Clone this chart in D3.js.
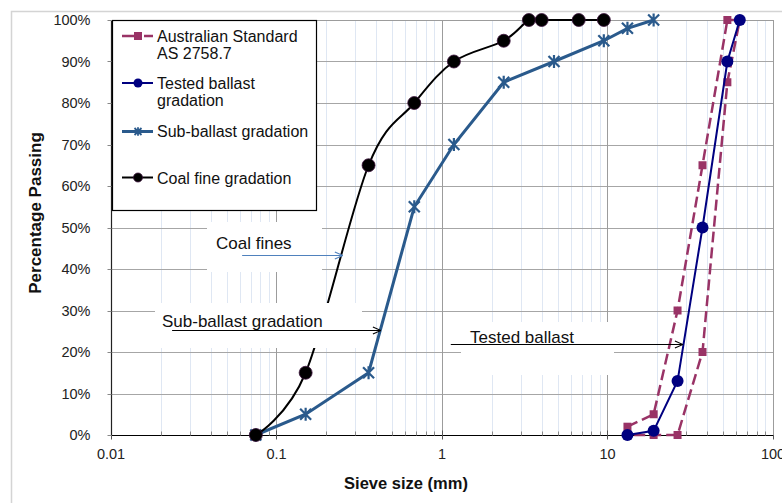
<!DOCTYPE html>
<html>
<head>
<meta charset="utf-8">
<script src="https://cdn.jsdelivr.net/npm/d3@7"></script>
<style>
  body { margin: 0; background: #fff; }
  text { font-family: "Liberation Sans", Arial, sans-serif; }
</style>
</head>
<body>
<svg id="chart" width="782" height="503"></svg>
<script>
// sieve sizes (mm) and percentage passing
const sieveStd = [13.2, 19, 26.5, 37.5, 53, 63, 53, 37.5, 26.5, 19, 13.2];
const passStd = [2, 5, 30, 65, 100, 100, 85, 20, 0, 0, 0];
const sieveBallast = [13.2, 19, 26.5, 37.5, 53, 63];
const passBallast = [0, 1, 13, 50, 90, 100];
const sieveSub = [0.075, 0.15, 0.36, 0.68, 1.18, 2.36, 4.75, 9.5, 13.2, 19];
const passSub = [0, 5, 15, 55, 70, 85, 90, 95, 98, 100];
const sieveCoal = [0.075, 0.15, 0.36, 0.68, 1.18, 2.36, 3.35, 4.0, 6.7, 9.5];
const passCoal = [0, 15, 65, 80, 90, 95, 100, 100, 100, 100];

const xTicks = [0.01, 0.1, 1, 10, 100];
const xTickLabels = ["0.01", "0.1", "1", "10", "100"];
const yTicks = [0, 10, 20, 30, 40, 50, 60, 70, 80, 90, 100];

const seriesNames = ["Australian Standard\nAS 2758.7", "Tested ballast\ngradation", "Sub-ballast gradation", "Coal fine gradation"];

const svg = d3.select("#chart");
const pLeft = 111, pRight = 773, pTop = 20, pBottom = 435;

const x = d3.scaleLog().domain([0.01, 100]).range([pLeft, pRight]);
const y = d3.scaleLinear().domain([0, 100]).range([pBottom, pTop]);

// outer chart frame
svg.append("rect").attr("x", 11.5).attr("y", 11.5).attr("width", 800).attr("height", 520)
    .attr("fill", "none").attr("stroke", "#d4d4d4").attr("stroke-width", 1.5);

// minor vertical grid
let minors = [];
for (let e = -2; e < 2; e++) {
    for (let m = 2; m < 10; m++) minors.push(m * Math.pow(10, e));
}
svg.append("g").selectAll("line").data(minors).enter().append("line")
    .attr("x1", d => Math.round(x(d)) + 0.5).attr("x2", d => Math.round(x(d)) + 0.5)
    .attr("y1", pTop).attr("y2", pBottom)
    .attr("stroke", "#dfe7f3").attr("stroke-width", 1);

// horizontal grid
svg.append("g").selectAll("line").data(yTicks.slice(1)).enter().append("line")
    .attr("x1", pLeft).attr("x2", pRight)
    .attr("y1", d => Math.round(y(d)) + 0.5).attr("y2", d => Math.round(y(d)) + 0.5)
    .attr("stroke", "#a6a6a6").attr("stroke-width", 1);

// major vertical grid
svg.append("g").selectAll("line").data(xTicks.slice(1)).enter().append("line")
    .attr("x1", d => Math.round(x(d)) + 0.5).attr("x2", d => Math.round(x(d)) + 0.5)
    .attr("y1", pTop).attr("y2", pBottom)
    .attr("stroke", "#9c9c9c").attr("stroke-width", 1);

// x axis
const xAxis = svg.append("g").attr("transform", `translate(0,${pBottom + 0.5})`);
xAxis.append("line").attr("x1", pLeft).attr("x2", pRight).attr("stroke", "#000").attr("stroke-width", 1.2);
xAxis.selectAll(".minor").data(minors).enter().append("line")
    .attr("x1", d => Math.round(x(d)) + 0.5).attr("x2", d => Math.round(x(d)) + 0.5)
    .attr("y1", -4).attr("y2", 0).attr("stroke", "#888");
xAxis.selectAll(".major").data(xTicks).enter().append("line")
    .attr("x1", d => Math.round(x(d)) + 0.5).attr("x2", d => Math.round(x(d)) + 0.5)
    .attr("y1", -5).attr("y2", 4).attr("stroke", "#555");
xAxis.selectAll("text").data(xTicks).enter().append("text")
    .attr("x", d => x(d)).attr("y", 23)
    .attr("text-anchor", "middle").attr("font-size", "14.5px").attr("fill", "#222")
    .text((d, i) => xTickLabels[i]);

// y axis
const yAxis = svg.append("g").attr("transform", `translate(${pLeft + 0.5},0)`);
yAxis.append("line").attr("y1", pTop).attr("y2", pBottom).attr("stroke", "#222").attr("stroke-width", 1.2);
yAxis.selectAll(".tick").data(yTicks).enter().append("line")
    .attr("x1", -4).attr("x2", 0)
    .attr("y1", d => Math.round(y(d)) + 0.5).attr("y2", d => Math.round(y(d)) + 0.5)
    .attr("stroke", "#888");
yAxis.selectAll("text").data(yTicks).enter().append("text")
    .attr("x", -21).attr("y", d => y(d) + 5)
    .attr("text-anchor", "end").attr("font-size", "14.5px").attr("fill", "#222")
    .text(d => d + "%");

// plot border top/right
svg.append("path").attr("d", `M${pLeft},${pTop + 0.5}H${pRight + 0.5}V${pBottom}`)
    .attr("fill", "none").attr("stroke", "#9c9c9c");

// axis titles
svg.append("text").attr("x", 406).attr("y", 489).attr("text-anchor", "middle")
    .attr("font-size", "16.5px").attr("font-weight", "bold").attr("fill", "#111")
    .text("Sieve size (mm)");
svg.append("text").attr("transform", "translate(41,213) rotate(-90)").attr("text-anchor", "middle")
    .attr("font-size", "17px").attr("font-weight", "bold").attr("fill", "#111")
    .text("Percentage Passing");

// series
const toPts = (xs, ys) => xs.map((v, i) => [v, ys[i]]);
const straight = d3.line().x(d => x(d[0])).y(d => y(d[1]));
const smooth = d3.line().x(d => x(d[0])).y(d => y(d[1])).curve(d3.curveCardinal.tension(0));

const stdColor = "#993366", ballastColor = "#000080", subColor = "#2a5a8c", coalColor = "#000";

function star(g, cx, cy, s, color, w) {
    g.append("path")
        .attr("d", `M${cx - s},${cy - s}L${cx + s},${cy + s}M${cx - s},${cy + s}L${cx + s},${cy - s}M${cx},${cy - s * 1.2}L${cx},${cy + s * 1.2}`)
        .attr("stroke", color).attr("stroke-width", w).attr("fill", "none");
}

const stdPts = toPts(sieveStd, passStd);
const gStd = svg.append("g");
gStd.append("path").attr("d", straight(stdPts)).attr("fill", "none")
    .attr("stroke", stdColor).attr("stroke-width", 2.5).attr("stroke-dasharray", "11,5");
gStd.selectAll("rect").data(stdPts).enter().append("rect")
    .attr("x", d => x(d[0]) - 4).attr("y", d => y(d[1]) - 4).attr("width", 8).attr("height", 8)
    .attr("fill", stdColor);

const ballastPts = toPts(sieveBallast, passBallast);
const gBal = svg.append("g");
gBal.append("path").attr("d", straight(ballastPts)).attr("fill", "none")
    .attr("stroke", ballastColor).attr("stroke-width", 2);
gBal.selectAll("circle").data(ballastPts).enter().append("circle")
    .attr("cx", d => x(d[0])).attr("cy", d => y(d[1])).attr("r", 6)
    .attr("fill", ballastColor);

const subPts = toPts(sieveSub, passSub);
const gSub = svg.append("g");
gSub.append("path").attr("d", straight(subPts)).attr("fill", "none")
    .attr("stroke", subColor).attr("stroke-width", 3);
subPts.forEach(d => star(gSub, x(d[0]), y(d[1]), 5.5, subColor, 2.2));

const coalPts = toPts(sieveCoal, passCoal);
const gCoal = svg.append("g");
gCoal.append("path").attr("d", smooth(coalPts)).attr("fill", "none")
    .attr("stroke", coalColor).attr("stroke-width", 2);
gCoal.selectAll("circle").data(coalPts).enter().append("circle")
    .attr("cx", d => x(d[0])).attr("cy", d => y(d[1])).attr("r", 6.5)
    .attr("fill", "#000").attr("stroke", "#3a103a").attr("stroke-width", 0.8);

// annotations: white label boxes over the plot, arrow tip placed on the curve in data units
svg.append("defs").selectAll("marker").data(["#000", "#4f81bd"]).enter().append("marker")
    .attr("id", (d, i) => "arr" + i).attr("viewBox", "0 0 10 10").attr("refX", 10).attr("refY", 5)
    .attr("markerWidth", 9).attr("markerHeight", 9).attr("markerUnits", "userSpaceOnUse").attr("orient", "auto")
    .append("path").attr("d", "M1,1L10,5L1,9").attr("fill", "none").attr("stroke", d => d).attr("stroke-width", 1.2);

const notes = [
    { text: "Coal fines", box: [207, 222, 115, 50], tx: 216, ty: 249, from: 0.062, to: 0.252, at: 43.4, marker: 1, color: "#4f81bd" },
    { text: "Sub-ballast gradation", box: [155, 303, 207, 45], tx: 162, ty: 327, from: 0.0234, to: 0.428, at: 25.3, marker: 0, color: "#000" },
    { text: "Tested ballast", box: [461, 322, 153, 53], tx: 470, ty: 343, from: 1.13, to: 28.6, at: 21.9, marker: 0, color: "#000" }
];
notes.forEach(n => {
    svg.append("rect").attr("x", n.box[0]).attr("y", n.box[1]).attr("width", n.box[2]).attr("height", n.box[3])
        .attr("fill", "#fff");
});
notes.forEach(n => {
    svg.append("text").attr("x", n.tx).attr("y", n.ty).attr("font-size", "17px").attr("fill", "#111").text(n.text);
    svg.append("line").attr("x1", x(n.from)).attr("x2", x(n.to))
        .attr("y1", Math.round(y(n.at)) + 0.5).attr("y2", Math.round(y(n.at)) + 0.5)
        .attr("stroke", n.color).attr("stroke-width", 1).attr("marker-end", `url(#arr${n.marker})`);
});

// legend
const lg = svg.append("g");
lg.append("rect").attr("x", 112.5).attr("y", 20.5).attr("width", 204).attr("height", 190)
    .attr("fill", "#fff").attr("stroke", "#000").attr("stroke-width", 1.2);
const legendRows = [36, 83, 131.5, 177.5];
const legendText = [[42, 59], [89, 106], [137], [184]];
seriesNames.forEach((name, i) => {
    const ly = legendRows[i];
    const row = lg.append("g");
    if (i === 0) {
        row.append("line").attr("x1", 122).attr("x2", 153).attr("y1", ly).attr("y2", ly)
            .attr("stroke", stdColor).attr("stroke-width", 2.5).attr("stroke-dasharray", "13,9");
        row.append("rect").attr("x", 134).attr("y", ly - 4).attr("width", 8).attr("height", 8).attr("fill", stdColor);
    } else if (i === 1) {
        row.append("line").attr("x1", 122).attr("x2", 153).attr("y1", ly).attr("y2", ly)
            .attr("stroke", ballastColor).attr("stroke-width", 2);
        row.append("circle").attr("cx", 138).attr("cy", ly).attr("r", 4.5).attr("fill", ballastColor);
    } else if (i === 2) {
        row.append("line").attr("x1", 122).attr("x2", 153).attr("y1", ly).attr("y2", ly)
            .attr("stroke", subColor).attr("stroke-width", 3);
        star(row, 138, ly, 3.5, subColor, 1.8);
    } else {
        row.append("line").attr("x1", 122).attr("x2", 153).attr("y1", ly).attr("y2", ly)
            .attr("stroke", coalColor).attr("stroke-width", 2);
        row.append("circle").attr("cx", 138).attr("cy", ly).attr("r", 4.5).attr("fill", "#000")
            .attr("stroke", "#3a103a").attr("stroke-width", 0.8);
    }
    name.split("\n").forEach((t, j) => {
        row.append("text").attr("x", 157).attr("y", legendText[i][j]).attr("font-size", "16px")
            .attr("fill", "#111").text(t);
    });
});
</script>
</body>
</html>
